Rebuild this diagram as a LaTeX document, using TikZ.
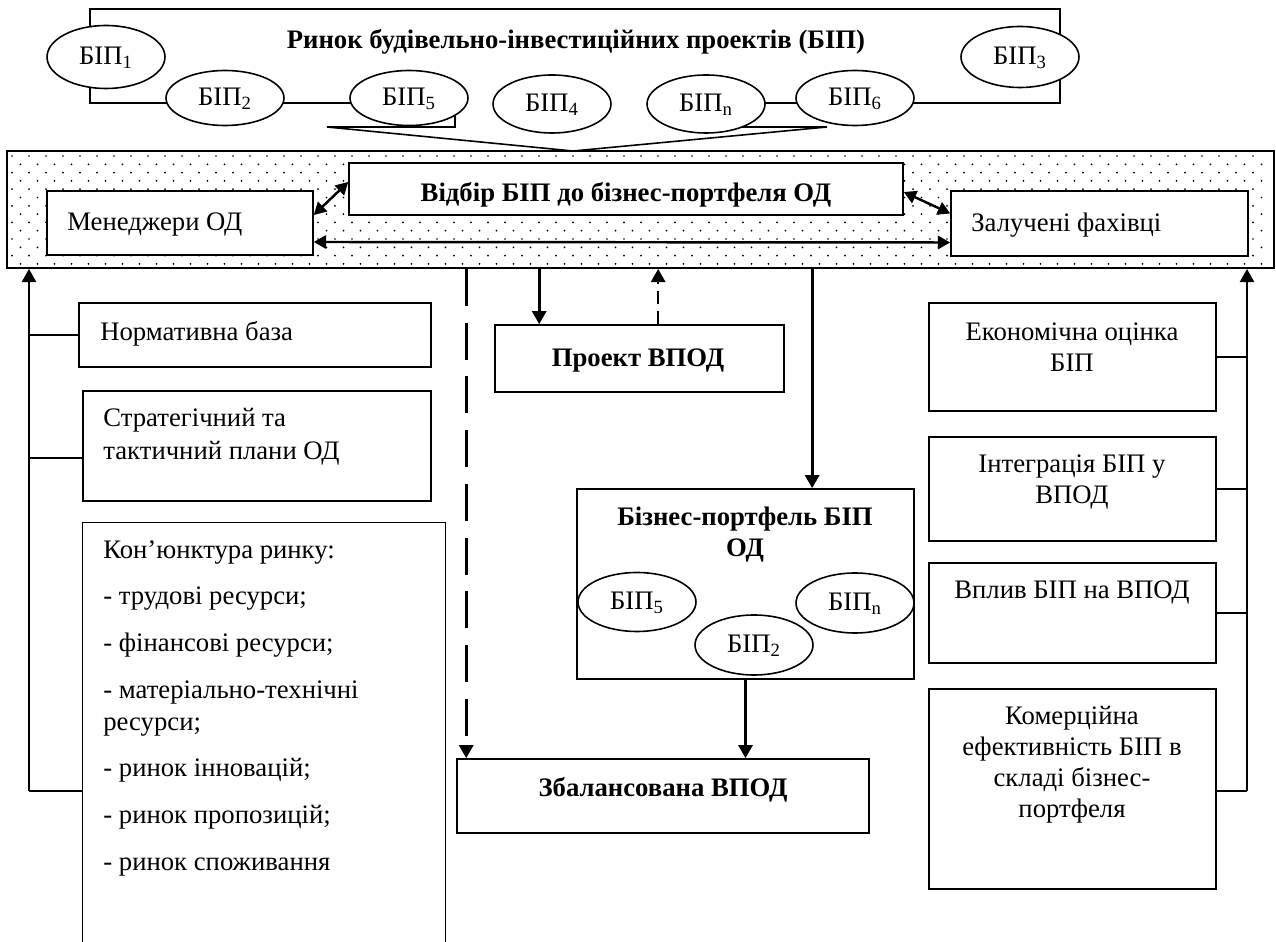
\documentclass[tikz,border=0pt]{standalone}
\usepackage{fontspec}
\setmainfont{Liberation Serif}
\usetikzlibrary{shapes.geometric,arrows.meta,fit}

\begin{document}
\begin{tikzpicture}[x=0.02cm, y=-0.02cm,
    every node/.style={font=\fontsize{15.2}{17.6}\selectfont, inner sep=0pt},
    heading/.style={font=\fontsize{15.2}{17.6}\selectfont\bfseries},
    blk/.style={draw, fill=white, line width=0.9pt},
    bip/.style={draw, fill=white, ellipse, line width=0.9pt, minimum width=2.36cm, minimum height=1.1cm,
        text height=9pt, text depth=0pt},
    arr/.style={line width=1.8pt, -{Triangle[length=7.5pt,width=8pt]}},
    dbl/.style={line width=1.4pt, {Triangle[length=7pt,width=7.5pt]}-{Triangle[length=7pt,width=7.5pt]}},
    dasharr/.style={arr, dash pattern=on 21pt off 9.6pt},
    dasharrs/.style={arr, line width=1.5pt, dash pattern=on 7.5pt off 4pt},
    link/.style={line width=1.2pt}]
    \useasboundingbox (0,0) rectangle (1276,942);

    % market of projects
    \coordinate (apex) at (573,151);
    \draw[line width=0.9pt] (90,103) -- (90,9) -- (1060,9) -- (1060,103) -- (740,103) -- (740,127)
        -- (827,127) -- (apex) -- (327,127) -- (455,127) -- (455,103) -- cycle;
    \node[heading] (market) at (576,42) {Ринок будівельно-інвестиційних проектів (БІП)};
    \node[bip, minimum height=1.26cm] (bip1) at (106,57) {БІП\textsubscript{1}};
    \node[bip] (bip2) at (225,98) {БІП\textsubscript{2}};
    \node[bip] (bip5) at (409,98) {БІП\textsubscript{5}};
    \node[bip, minimum height=1.16cm] (bip4) at (552,104) {БІП\textsubscript{4}};
    \node[bip, minimum height=1.16cm] (bipn) at (706,104) {БІП\textsubscript{n}};
    \node[bip] (bip6) at (855,98) {БІП\textsubscript{6}};
    \node[bip, minimum height=1.22cm] (bip3) at (1020,57) {БІП\textsubscript{3}};

    % dotted band
    \foreach \r in {0,...,13}
      \foreach \c in {0,...,73}
        \fill ({12+\c*17+mod(\r,2)*8.5},{156+\r*8.3}) circle (0.55pt);
    \node[draw, line width=1pt, fit={(7,151) (1274,268)}] (band) {};
    \node[blk, fit={(349,163) (903,215)}] (vidbir) {};
    \node[heading] (vidbirtxt) at (626,195) {Відбір БІП до бізнес-портфеля ОД};
    \node[blk, fit={(47,191) (313,255)}] (men) {};
    \node[anchor=west] (mentxt) at (67,225) {Менеджери ОД};
    \node[blk, fit={(951,191) (1248,256)}] (zal) {};
    \node[anchor=west] (zaltxt) at (971,225) {Залучені фахівці};
    \draw[dbl] ([yshift=0.16cm]men.east) -- ([yshift=0.14cm]vidbir.west);
    \draw[dbl] ([yshift=-0.06cm]vidbir.east) -- ([yshift=0.2cm]zal.west);
    \draw[dbl] ([yshift=-0.38cm]men.east) -- ([yshift=-0.38cm]zal.west);

    % left column
    \node[blk, fit={(79,303) (431,367)}] (norm) {};
    \node[anchor=west] (normtxt) at (100,334) {Нормативна база};
    \node[blk, fit={(83,391) (431,501)}] (strat) {};
    \node[anchor=north west, align=left, font=\fontsize{15.2}{18.7}\selectfont] (strattxt) at (103,408)
        {Стратегічний та\\тактичний плани ОД};
    \node[fit={(83,523) (445,942)}] (kon) {};
    \draw[line width=0.9pt] (kon.south west) -- (kon.north west) -- (kon.north east) -- (kon.south east);
    \node[anchor=north west, align=left, font=\fontsize{15.2}{18.1}\selectfont] (kontxt) at (103,540)
        {Кон’юнктура ринку:\\[8.5pt] - трудові ресурси;\\[8.5pt] - фінансові ресурси;\\[8.5pt]
         - матеріально-технічні\\ресурси;\\[8.5pt] - ринок інновацій;\\[8.5pt] - ринок пропозицій;\\[8.5pt]
         - ринок споживання};
    \coordinate (lbot) at (29,791);
    \draw[arr, line width=1.3pt] (lbot) -- (lbot |- band.south);
    \draw[link] (norm.west) -- (norm.west -| lbot);
    \draw[link] ([yshift=-0.24cm]strat.west) -- +(-54,0);
    \draw[link] (lbot) -- (lbot -| kon.west);

    % middle column
    \node[blk, fit={(495,325) (784,392)}] (proekt) {};
    \node[heading] (proekttxt) at (638,361) {Проект ВПОД};
    \node[blk, fit={(577,489) (914,679)}] (portf) {};
    \node[heading, align=center] (portftxt) at (745,535) {Бізнес-портфель БІП\\ОД};
    \node[bip, minimum height=1.18cm] (pbip5) at (637,602) {БІП\textsubscript{5}};
    \node[bip, minimum height=1.2cm] (pbip2) at (754,645) {БІП\textsubscript{2}};
    \node[bip, minimum height=1.2cm] (pbipn) at (855,603) {БІП\textsubscript{n}};
    \node[blk, fit={(457,759) (869,833)}] (zbal) {};
    \node[heading] (zbaltxt) at (663,790) {Збалансована ВПОД};
    \coordinate (zbin) at ([xshift=0.2cm]zbal.north west);
    \coordinate (prin) at ([xshift=0.9cm]proekt.north west);
    \coordinate (prout) at ([xshift=3.28cm]proekt.north west);
    \coordinate (pfin) at ([xshift=4.72cm]portf.north west);
    \draw[dasharr] (zbin |- band.south) -- (zbin);
    \draw[arr] (prin |- band.south) -- (prin);
    \draw[dasharrs] (prout) -- (prout |- band.south);
    \draw[arr] (pfin |- band.south) -- (pfin);
    \draw[arr] (portf.south) -- (portf.south |- zbal.north);

    % right column
    \node[blk, fit={(929,303) (1216,411)}] (econ) {};
    \node[align=center] (econtxt) at (1072,347) {Економічна оцінка\\БІП};
    \node[blk, fit={(929,437) (1216,541)}] (integr) {};
    \node[align=center] (integrtxt) at (1072,482) {Інтеграція БІП у\\ВПОД};
    \node[blk, fit={(929,563) (1216,663)}] (vplyv) {};
    \node (vplyvtxt) at (1072,593) {Вплив БІП на ВПОД};
    \node[blk, fit={(929,689) (1216,889)}] (komerc) {};
    \node[align=center] (komerctxt) at (1072,765) {Комерційна\\ефективність БІП в\\складі бізнес-\\портфеля};
    \coordinate (rbot) at (1247,791);
    \draw[arr, line width=1.3pt] (rbot) -- (rbot |- band.south);
    \draw[link] (econ.east) -- (econ.east -| rbot);
    \draw[link] (integr.east) -- (integr.east -| rbot);
    \draw[link] (vplyv.east) -- (vplyv.east -| rbot);
    \draw[link] (komerc.east |- rbot) -- (rbot);
\end{tikzpicture}
\end{document}
